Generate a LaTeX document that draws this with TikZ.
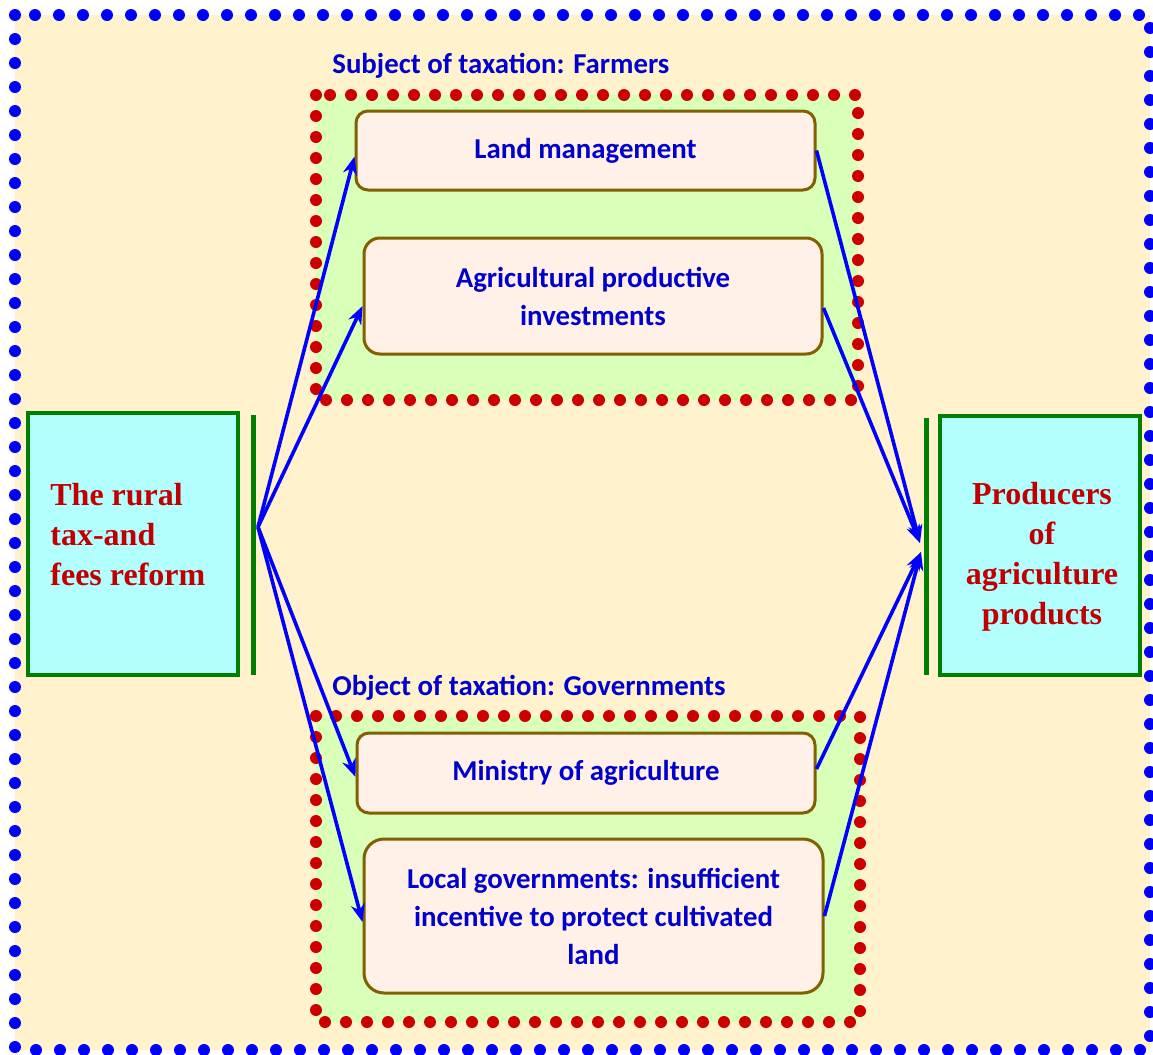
\documentclass[tikz,border=0pt]{standalone}
\usepackage{fontspec}
\setmainfont{Liberation Serif}
\newfontfamily\boxfont{Carlito}
\usetikzlibrary{arrows.meta}
\definecolor{cream}{HTML}{FFF2CC}
\definecolor{cyanbox}{HTML}{B3FFFF}
\definecolor{darkgreen}{HTML}{007F00}
\definecolor{darkred}{HTML}{C00000}
\definecolor{dotred}{HTML}{CC0000}
\definecolor{groupgreen}{HTML}{DAFFB8}
\definecolor{boxbrown}{HTML}{806000}
\definecolor{boxfill}{HTML}{FFF0E8}
\definecolor{textblue}{HTML}{0000CC}

\begin{document}
\begin{tikzpicture}[x=0.5pt, y=-0.5pt,
  endbox/.style={draw=darkgreen, line width=2pt, fill=cyanbox, inner sep=0pt},
  endtext/.style={text=darkred, font=\bfseries\fontsize{16}{20}\selectfont, inner sep=0pt},
  bar/.style={fill=darkgreen, draw=none, minimum width=2.5pt, inner sep=0pt},
  group/.style={fill=groupgreen, draw=dotred, line width=6pt, line cap=round,
    dash pattern=on 0pt off 10.5pt},
  item/.style={draw=boxbrown, line width=1.5pt, fill=boxfill, rounded corners=6pt,
    text=textblue, font=\boxfont\bfseries\fontsize{14.4}{19}\selectfont,
    align=center, inner sep=0pt},
  grouplabel/.style={text=textblue, font=\boxfont\bfseries\fontsize{14.4}{19}\selectfont,
    anchor=west, inner sep=0pt},
  flow/.style={blue, line width=1.8pt, -{Stealth[length=9pt, width=7pt]}}]
\useasboundingbox (0,0) rectangle (1153,1055);
\draw[fill=cream, draw=blue, line width=6pt, line cap=round, dash pattern=on 0pt off 12pt]
  (15,15) rectangle (1150,1050);

% groups
\draw[group] (316,95) rectangle (858,400);
\draw[group] (316,716) rectangle (860,1022);
\node[grouplabel] (farmers) at (332,66) {Subject of taxation: Farmers};
\node[grouplabel] (govs) at (332,688) {Object of taxation: Governments};

% items
\node[item, minimum width=229.5pt, minimum height=39.5pt] (land) at (585.5,150.5) {\raisebox{2pt}{Land management}};
\node[item, minimum width=229pt, minimum height=58pt, rounded corners=8pt] (invest) at (593,296) {Agricultural productive\\investments};
\node[item, minimum width=229pt, minimum height=40pt] (ministry) at (586,773) {\raisebox{2pt}{Ministry of agriculture}};
\node[item, minimum width=229.5pt, minimum height=77pt, rounded corners=10pt] (local) at (593.5,916) {Local governments: insufficient\\incentive to protect cultivated\\land};

% ends
\node[endbox, minimum width=105pt, minimum height=131pt] (reform) at (133,544) {};
\node[endtext, align=left, anchor=west] (reformtext) at (50,535) {The rural\\tax-and\\fees reform};
\node[bar, minimum height=130pt] (lbar) at (253.5,545) {};
\node[endbox, minimum width=100pt, minimum height=129.5pt] (producers) at (1040,545.5) {};
\node[endtext, align=center] (producerstext) at (1042,557) {Producers\\of\\agriculture\\products};
\node[bar, minimum height=128.5pt] (rbar) at (926.5,546.5) {};

\coordinate (src) at (258,527);
\coordinate (dstA) at (920,543);
\coordinate (dstB) at (921,552);

\draw[flow] (src) -- ([yshift=-3pt]land.west);
\draw[flow] (src) -- ([yshift=-5pt]invest.west);
\draw[flow] (src) -- ([yshift=-2pt]ministry.west);
\draw[flow] (src) -- ([yshift=-3pt]local.west);
\draw[flow] (land.east) -- (dstA);
\draw[flow] ([yshift=-6pt]invest.east) -- (dstA);
\draw[flow] ([yshift=2pt]ministry.east) -- (dstB);
\draw[flow] (local.east) -- (dstB);
\end{tikzpicture}
\end{document}
